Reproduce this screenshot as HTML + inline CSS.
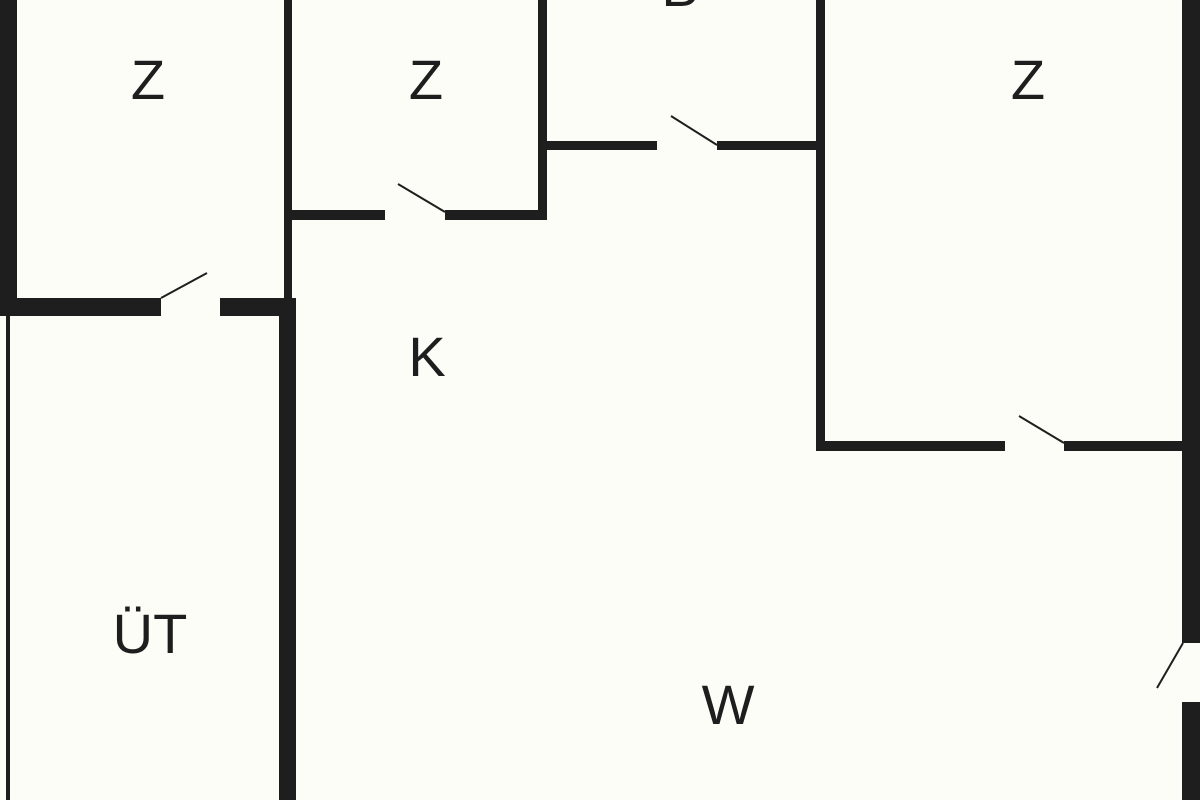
<!DOCTYPE html>
<html><head><meta charset="utf-8"><style>
html,body{margin:0;padding:0;background:#fdfdf8;}
svg{display:block}
text{font-family:"Liberation Sans",sans-serif;font-size:56px;fill:#1e1e1e;text-anchor:middle}
</style></head><body>
<svg width="1200" height="800" viewBox="0 0 1200 800" xmlns="http://www.w3.org/2000/svg">
<rect width="1200" height="800" fill="#fdfdf8"/>
<g fill="#1e1e1e">
<rect x="0" y="0" width="17" height="316"/>
<rect x="6" y="315" width="4" height="485"/>
<rect x="0" y="298" width="161" height="18"/>
<rect x="220" y="298" width="76" height="18"/>
<rect x="284" y="0" width="8" height="300"/>
<rect x="279" y="298" width="17" height="502"/>
<rect x="292" y="210" width="93" height="10"/>
<rect x="445" y="210" width="102" height="10"/>
<rect x="538" y="0" width="9" height="220"/>
<rect x="547" y="141" width="110" height="9"/>
<rect x="717" y="141" width="108" height="9"/>
<rect x="816" y="0" width="9" height="451"/>
<rect x="816" y="441" width="189" height="10"/>
<rect x="1064" y="441" width="121" height="10"/>
<rect x="1182" y="0" width="18" height="643"/>
<rect x="1182" y="702" width="18" height="98"/>
</g>
<g stroke="#1e1e1e" stroke-width="2">
<line x1="161" y1="298" x2="207" y2="273"/>
<line x1="445" y1="212" x2="398" y2="184"/>
<line x1="717" y1="145" x2="671" y2="116"/>
<line x1="1064" y1="443" x2="1019" y2="416"/>
<line x1="1183" y1="643" x2="1157" y2="688"/>
</g>
<text x="148" y="99">Z</text>
<text x="426" y="99">Z</text>
<text x="1028" y="99">Z</text>
<text x="680" y="6">B</text>
<text x="427" y="376">K</text>
<text x="150" y="653">ÜT</text>
<text x="728" y="724">W</text>
</svg>
</body></html>
